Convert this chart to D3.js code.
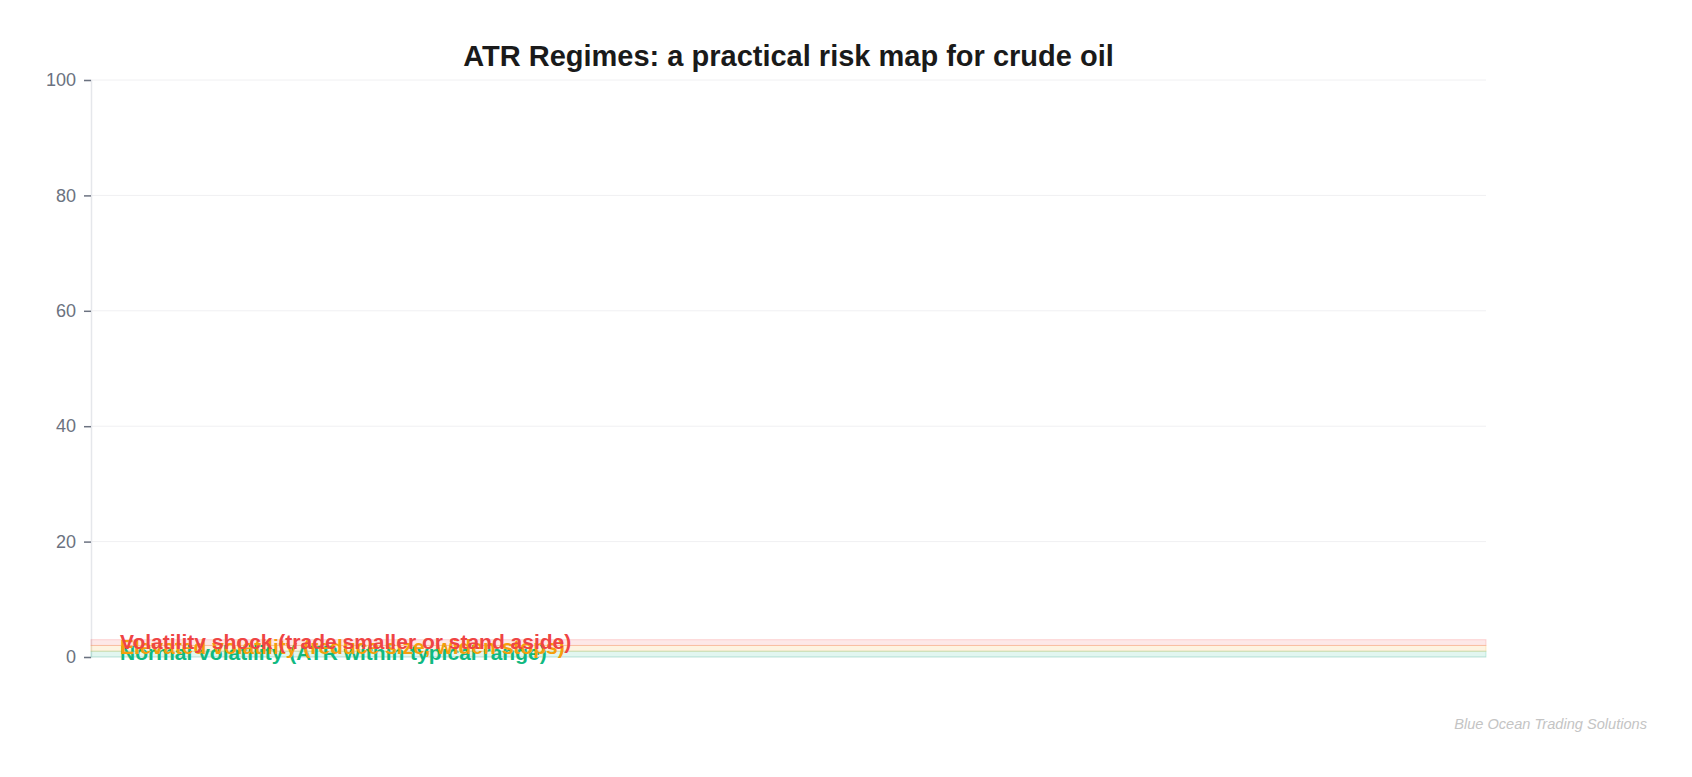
<!DOCTYPE html>
<html>
<head>
<meta charset="utf-8">
<script src="https://cdn.jsdelivr.net/npm/d3@7"></script>
<style>
	body { margin: 0; background: #fff; font-family: "Liberation Sans", Arial, sans-serif; }
</style>
</head>
<body>
<script>
// regime bands (ATR level, arbitrary units)
const regimeNames = [
	"Normal volatility (ATR within typical range)",
	"Elevated volatility (reduce size, widen stops)",
	"Volatility shock (trade smaller or stand aside)",
];
const regimeLow = [0, 1, 2];
const regimeHigh = [1, 2, 3];
const regimeColors = ["#10b981", "#f59e0b", "#ef4444"];
const yTicks = [0, 20, 40, 60, 80, 100];

const width = 1692;
const height = 777;
const margin = { top: 80, right: 206, bottom: 120, left: 91 };

const svg = d3
	.select("body")
	.append("svg")
	.attr("width", width)
	.attr("height", height);

const x = d3
	.scaleLinear()
	.domain([0, 1])
	.range([margin.left, width - margin.right]);
const y = d3
	.scaleLinear()
	.domain([0, 100])
	.range([height - margin.bottom, margin.top]);

// grid
svg
	.append("g")
	.selectAll("line")
	.data(yTicks)
	.enter()
	.append("line")
	.attr("x1", x(0))
	.attr("x2", x(1))
	.attr("y1", (d) => y(d))
	.attr("y2", (d) => y(d))
	.attr("stroke", "#f0f0f2")
	.attr("stroke-width", 1);

// y axis
const yAxis = svg
	.append("g")
	.attr("transform", `translate(${margin.left},0)`)
	.call(d3.axisLeft(y).tickValues(yTicks).tickSize(7).tickPadding(8));
yAxis.select(".domain").attr("stroke", "#e5e7eb").attr("stroke-width", 1.5);
yAxis.selectAll(".tick line").attr("stroke", "#6b7280").attr("stroke-width", 1.5);
yAxis
	.selectAll(".tick text")
	.attr("fill", "#6b7280")
	.style("font-size", "18px")
	.style("font-family", "Liberation Sans, Arial, sans-serif");

// bands
svg
	.append("g")
	.selectAll("rect")
	.data(regimeNames)
	.enter()
	.append("rect")
	.attr("x", x(0))
	.attr("width", x(1) - x(0))
	.attr("y", (d, i) => y(regimeHigh[i]))
	.attr("height", (d, i) => y(regimeLow[i]) - y(regimeHigh[i]))
	.attr("fill", (d, i) => regimeColors[i])
	.attr("fill-opacity", 0.12)
	.attr("stroke", (d, i) => regimeColors[i])
	.attr("stroke-opacity", 0.2)
	.attr("stroke-width", 1);

// band labels
svg
	.append("g")
	.selectAll("text")
	.data(regimeNames)
	.enter()
	.append("text")
	.attr("x", x(0) + 29)
	.attr("y", (d, i) => y(regimeHigh[i]) + 9)
	.attr("fill", (d, i) => regimeColors[i])
	.style("font-size", "21px")
	.style("font-weight", "bold")
	.text((d) => d);

// title
svg
	.append("text")
	.attr("x", (x(0) + x(1)) / 2)
	.attr("y", 66)
	.attr("text-anchor", "middle")
	.attr("fill", "#1a1a1a")
	.style("font-size", "29px")
	.style("font-weight", "bold")
	.text("ATR Regimes: a practical risk map for crude oil");

// watermark
svg
	.append("text")
	.attr("x", 1647)
	.attr("y", 729)
	.attr("text-anchor", "end")
	.attr("fill", "#c4c4c4")
	.style("font-size", "14.6px")
	.style("font-style", "italic")
	.text("Blue Ocean Trading Solutions");
</script>
</body>
</html>
